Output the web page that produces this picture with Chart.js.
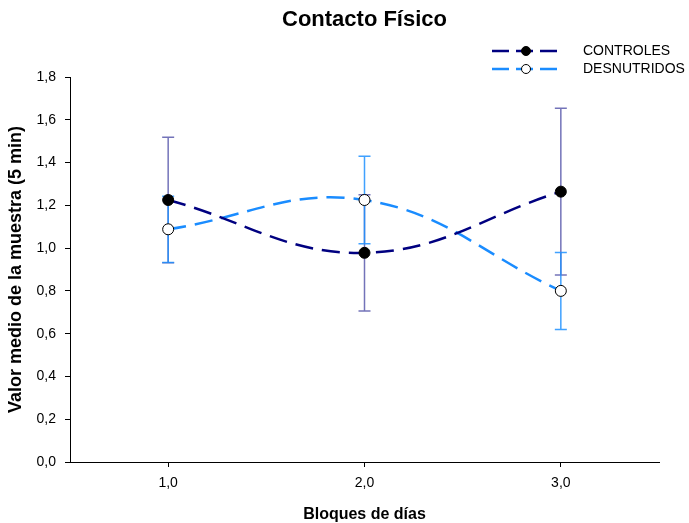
<!DOCTYPE html>
<html>
<head>
<meta charset="utf-8">
<script src="https://cdn.jsdelivr.net/npm/chart.js@4"></script>
<style>
  html, body { margin: 0; padding: 0; background: #fff; }
  #wrap { width: 689px; height: 523px; }
</style>
</head>
<body>
<div id="wrap"><canvas id="chartContacto"></canvas></div>
<script>
// Datos: bloques de días y medias (con error) por grupo
const bloques = [1, 2, 3];
const controles = [1.225, 0.978, 1.264];
const controlesErr = [0.293, 0.272, 0.39];
const desnutridos = [1.088, 1.225, 0.80];
const desnutridosErr = [0.155, 0.205, 0.18];
const etiquetas = ['CONTROLES', 'DESNUTRIDOS'];
const titulo = 'Contacto Físico';

const fuente = 'Arial, "Liberation Sans", sans-serif';
const coma = v => Number(v).toFixed(1).replace('.', ',');

// Barras de error dibujadas debajo de las líneas y puntos
const barrasError = {
  id: 'barrasError',
  beforeDatasetsDraw(chart) {
    const { ctx, scales: { x, y } } = chart;
    chart.data.datasets.forEach(ds => {
      ctx.save();
      ctx.strokeStyle = ds.errorColor;
      ctx.lineWidth = 1.5;
      ds.data.forEach((p, i) => {
        const px = x.getPixelForValue(p.x);
        const top = y.getPixelForValue(p.y + ds.errores[i]);
        const bot = y.getPixelForValue(p.y - ds.errores[i]);
        ctx.beginPath();
        ctx.moveTo(px, top); ctx.lineTo(px, bot);
        ctx.moveTo(px - 6, top); ctx.lineTo(px + 6, top);
        ctx.moveTo(px - 6, bot); ctx.lineTo(px + 6, bot);
        ctx.stroke();
      });
      ctx.restore();
    });
  }
};

// Título y leyenda (línea discontinua con marcador)
const tituloLeyenda = {
  id: 'tituloLeyenda',
  afterDraw(chart) {
    const { ctx, chartArea } = chart;
    ctx.save();
    ctx.fillStyle = '#000';
    ctx.font = 'bold 22px ' + fuente;
    ctx.textAlign = 'center';
    ctx.textBaseline = 'middle';
    ctx.fillText(titulo, (chartArea.left + chartArea.right) / 2, 20);

    chart.data.datasets.forEach((ds, i) => {
      const yy = 51 + i * 18;
      ctx.strokeStyle = ds.borderColor;
      ctx.lineWidth = 2.5;
      ctx.setLineDash([17, 7]);
      ctx.beginPath();
      ctx.moveTo(492, yy); ctx.lineTo(559, yy);
      ctx.stroke();
      ctx.setLineDash([]);
      ctx.beginPath();
      ctx.arc(526, yy, 4.5, 0, Math.PI * 2);
      ctx.fillStyle = ds.pointBackgroundColor;
      ctx.fill();
      ctx.lineWidth = 1;
      ctx.strokeStyle = '#000';
      ctx.stroke();
      ctx.fillStyle = '#000';
      ctx.font = '14px ' + fuente;
      ctx.textAlign = 'left';
      ctx.fillText(ds.label, 583, yy);
    });
    ctx.restore();
  }
};

const ctx = document.getElementById('chartContacto').getContext('2d');

const chartContacto = new Chart(ctx, {
  type: 'line',
  data: {
    datasets: [{
      label: etiquetas[0],
      data: bloques.map((b, i) => ({ x: b, y: controles[i] })),
      errores: controlesErr,
      errorColor: 'rgba(0, 0, 128, 0.55)',
      borderColor: '#000080',
      borderWidth: 2.5,
      borderDash: [18, 9],
      pointRadius: 5.5,
      pointBackgroundColor: '#000',
      pointBorderColor: '#000',
      pointBorderWidth: 1,
      tension: 0.4
    }, {
      label: etiquetas[1],
      data: bloques.map((b, i) => ({ x: b, y: desnutridos[i] })),
      errores: desnutridosErr,
      errorColor: 'rgba(30, 144, 255, 0.85)',
      borderColor: '#1a8cff',
      borderWidth: 2.5,
      borderDash: [18, 9],
      pointRadius: 5.5,
      pointBackgroundColor: '#fff',
      pointBorderColor: '#000',
      pointBorderWidth: 1,
      tension: 0.4
    }]
  },
  options: {
    responsive: true,
    maintainAspectRatio: false,
    animation: false,
    layout: { padding: { top: 77, right: 30, left: 0, bottom: 0 } },
    plugins: {
      legend: { display: false },
      title: { display: false },
      tooltip: { enabled: false }
    },
    scales: {
      x: {
        type: 'linear',
        min: 0.5,
        max: 3.5,
        afterBuildTicks: s => { s.ticks = bloques.map(v => ({ value: v })); },
        afterFit: s => { s.height = 61; },
        ticks: {
          callback: v => coma(v),
          color: '#000',
          padding: 8,
          font: { family: fuente, size: 14 }
        },
        grid: { drawOnChartArea: false, tickLength: 5, color: '#000' },
        border: { color: '#000', width: 1 },
        title: {
          display: true,
          text: 'Bloques de días',
          color: '#000',
          padding: { top: 0, bottom: 0 },
          font: { family: fuente, size: 16, weight: 'bold', lineHeight: 1 }
        }
      },
      y: {
        min: 0,
        max: 1.8,
        afterFit: s => { s.width = 70; },
        ticks: {
          stepSize: 0.2,
          callback: v => coma(v),
          color: '#000',
          padding: 9,
          font: { family: fuente, size: 14 }
        },
        grid: { drawOnChartArea: false, tickLength: 5, color: '#000' },
        border: { color: '#000', width: 1 },
        title: {
          display: true,
          text: 'Valor medio de la muestra (5 min)',
          color: '#000',
          padding: { top: 7, bottom: 0 },
          font: { family: fuente, size: 18, weight: 'bold', lineHeight: 1 }
        }
      }
    }
  },
  plugins: [barrasError, tituloLeyenda]
});
</script>
</body>
</html>
